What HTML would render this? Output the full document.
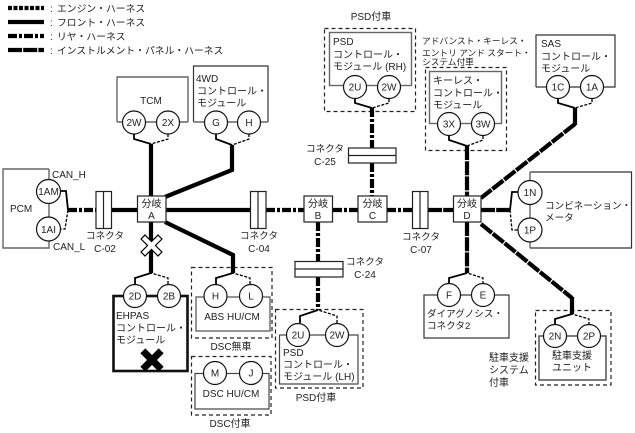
<!DOCTYPE html>
<html><head><meta charset="utf-8"><style>
html,body{margin:0;padding:0;background:#fff}
svg{display:block}
text{font-family:"Liberation Sans","Noto Sans CJK JP",sans-serif;font-size:10px;fill:#222}
.j{font-size:9.6px}
.l{font-size:9.8px}
.a{font-size:8.7px}
.b{fill:#fff;stroke:#333;stroke-width:1.2}
.g{fill:none;stroke:#666;stroke-width:1.4}
.c{fill:#fff;stroke:#111;stroke-width:1.2}
.d{fill:none;stroke:#222;stroke-width:1.2;stroke-dasharray:4 3}
.s{fill:none;stroke:#000;stroke-width:1.8}
.t{fill:none;stroke:#000;stroke-width:1.3;stroke-dasharray:3 1.5}
.w{fill:none;stroke:#000;stroke-width:4.2}
.wr{fill:none;stroke:#000;stroke-width:4.2;stroke-dasharray:9 2 3 2}
.wi{fill:none;stroke:#000;stroke-width:4.2;stroke-dasharray:14 1.2}
.we{fill:none;stroke:#000;stroke-width:4.2;stroke-dasharray:4 1.5}
.m{text-anchor:middle}
</style></head><body>
<svg width="635" height="433" viewBox="0 0 635 433" xmlns="http://www.w3.org/2000/svg">
<!-- legend -->
<path class="we" d="M8 8H44"/><path class="w" d="M8 22H44"/><path class="wr" d="M8 36H44"/><path class="wi" d="M8 50H44"/>
<text x="50" y="12">:</text><text class="l" x="57" y="12">エンジン・ハーネス</text>
<text x="50" y="26">:</text><text class="l" x="57" y="26">フロント・ハーネス</text>
<text x="50" y="40">:</text><text class="l" x="57" y="40">リヤ・ハーネス</text>
<text x="50" y="54">:</text><text class="l" x="57" y="54">インストルメント・パネル・ハーネス</text>

<!-- boxes -->
<path class="g" d="M117 122V77H188V122"/>
<path class="b" d="M193.500 122V66H268V122" fill="none"/>
<path class="g" d="M117 122H188M193.500 122H268"/>
<path class="g" d="M49 169H3V248H49V169"/>
<rect class="d" x="324.500" y="28.500" width="91" height="83"/>
<rect class="g" x="329.500" y="32.500" width="82" height="53"/>
<rect class="d" x="425.500" y="67.500" width="81" height="83"/>
<rect class="g" x="429.500" y="71.500" width="72" height="52"/>
<path class="b" d="M536 87V35H615V87H536"/>
<path class="b" d="M530 172H631.500V248H530"/><path class="g" d="M530 172V248"/>
<rect x="113.500" y="296" width="74" height="75" fill="#fff" stroke="#111" stroke-width="2.6"/>
<rect class="d" x="191.500" y="267.500" width="80.500" height="70.500"/>
<rect x="196" y="297" width="74" height="34" fill="#fff" stroke="#666" stroke-width="1.4"/>
<rect class="d" x="191.500" y="356.500" width="79.500" height="58.500"/>
<rect x="195" y="373.500" width="74" height="35.500" fill="#fff" stroke="#444" stroke-width="1.2"/>
<rect class="d" x="275.500" y="309.500" width="87.500" height="78.500"/>
<rect x="279.500" y="335" width="78.500" height="49" fill="#fff" stroke="#444" stroke-width="1.2"/>
<rect x="424" y="295" width="85" height="43" fill="#fff" stroke="#333" stroke-width="1.2"/>
<rect class="d" x="535.500" y="310.500" width="75.500" height="74.500"/>
<rect x="539" y="336" width="67" height="44" fill="#fff" stroke="#444" stroke-width="1.4"/>

<!-- main wires -->
<path class="wr" d="M68 210H96"/>
<path class="w" d="M111 210H137M166 210H250"/>
<path class="wr" d="M266 210H304M333 210H358M387 210H412"/>
<path class="wi" d="M428 210H453M481 210H510"/>
<path class="w" d="M151 144V196M232 145V170L165 197"/>
<path class="wr" d="M372 108V148M372 163V196M318 222V261M318 277V310"/>
<path class="wi" d="M467 146V196M467 222V273"/>
<path class="w" d="M575 108V125"/>
<path class="wi" d="M575 124L481 198M481 224L572 298"/>
<path class="w" d="M572 297V314M151 222V273M165 222L233 255V273"/>

<!-- stubs -->
<path class="s" d="M134 134V139L151 144M216 134V139L232 145M355 99V103L372 108M449 136V140L467 146M558 99V103L575 108M135 284V278L151 273M216 284V278L233 273M300 323V316L318 310M449 284V278L467 273M555 325V319L572 314M60 191H66L68 210M518 192H512L510 210"/>
<path class="t" d="M168 134V139L151 144M249 134V139L232 145M389 99V103L372 108M483 136V140L467 146M592 99V103L575 108M168 284V278L151 273M250 284V278L233 273M337 323V316L318 310M483 284V278L467 273M589 325V319L572 314M68 210L65 229H60M510 210L512 230H518"/>

<!-- connectors -->
<g fill="#fff" stroke="#222" stroke-width="1.2">
<rect x="96" y="191.500" width="15.500" height="37"/><path d="M103.500 191.500V228.500"/>
<rect x="250.500" y="191.500" width="15.500" height="37"/><path d="M258 191.500V228.500"/>
<rect x="412.500" y="191.500" width="15.500" height="37"/><path d="M420 191.500V228.500"/>
<rect x="348.500" y="148" width="47.500" height="15"/><path d="M348.500 155.500H396"/>
<rect x="295" y="261.500" width="48" height="15.500"/><path d="M295 269H343"/>
</g>

<!-- branches -->
<g fill="#fff" stroke="#222" stroke-width="1.2">
<rect x="137.500" y="196" width="28.500" height="26"/>
<rect x="304" y="196" width="28.500" height="26"/>
<rect x="358" y="196" width="29" height="26"/>
<rect x="453.500" y="196" width="27.500" height="26"/>
</g>
<text class="m" x="151.500" y="207">分岐</text><text class="m" x="151.500" y="219">A</text>
<text class="m" x="318" y="207">分岐</text><text class="m" x="318" y="219">B</text>
<text class="m" x="372.500" y="207">分岐</text><text class="m" x="372.500" y="219">C</text>
<text class="m" x="467" y="207">分岐</text><text class="m" x="467" y="219">D</text>

<!-- circles -->
<g>
<circle class="c" cx="134" cy="122.500" r="11.500"/><circle class="c" cx="168" cy="122.500" r="11.500"/>
<circle class="c" cx="216" cy="122.500" r="11.500"/><circle class="c" cx="249" cy="122.500" r="11.500"/>
<circle class="c" cx="48.500" cy="191.500" r="12"/><circle class="c" cx="48.500" cy="229" r="12"/>
<circle class="c" cx="355" cy="87" r="11.500"/><circle class="c" cx="389" cy="87" r="11.500"/>
<circle class="c" cx="449" cy="124" r="11.500"/><circle class="c" cx="483" cy="124" r="11.500"/>
<circle class="c" cx="558" cy="87" r="11.500"/><circle class="c" cx="592" cy="87" r="11.500"/>
<circle class="c" cx="530" cy="192.500" r="12"/><circle class="c" cx="530" cy="230" r="12"/>
<circle class="c" cx="135" cy="296" r="11.500"/><circle class="c" cx="169" cy="296" r="11.500"/>
<circle class="c" cx="215.500" cy="296" r="11.500"/><circle class="c" cx="251" cy="296" r="11.500"/>
<circle class="c" cx="215" cy="373" r="11.500"/><circle class="c" cx="251" cy="373" r="11.500"/>
<circle class="c" cx="298" cy="335" r="11.500"/><circle class="c" cx="337" cy="335" r="11.500"/>
<circle class="c" cx="449" cy="295" r="11.500"/><circle class="c" cx="483" cy="295" r="11.500"/>
<circle class="c" cx="555" cy="336" r="11.500"/><circle class="c" cx="589" cy="336" r="11.500"/>
</g>
<g>
<text class="m" x="134" y="126">2W</text><text class="m" x="168" y="126">2X</text>
<text class="m" x="216" y="126">G</text><text class="m" x="249" y="126">H</text>
<text class="m" x="48.500" y="195">1AM</text><text class="m" x="48.500" y="233">1AI</text>
<text class="m" x="355" y="90.500">2U</text><text class="m" x="389" y="90.500">2W</text>
<text class="m" x="449" y="127.500">3X</text><text class="m" x="483" y="127.500">3W</text>
<text class="m" x="558" y="90.500">1C</text><text class="m" x="592" y="90.500">1A</text>
<text class="m" x="530" y="196">1N</text><text class="m" x="530" y="233.500">1P</text>
<text class="m" x="135" y="299.500">2D</text><text class="m" x="169" y="299.500">2B</text>
<text class="m" x="215.500" y="299.500">H</text><text class="m" x="251" y="299.500">L</text>
<text class="m" x="215" y="376.500">M</text><text class="m" x="251" y="376.500">J</text>
<text class="m" x="298" y="338.500">2U</text><text class="m" x="337" y="338.500">2W</text>
<text class="m" x="449" y="298.500">F</text><text class="m" x="483" y="298.500">E</text>
<text class="m" x="555" y="339.500">2N</text><text class="m" x="589" y="339.500">2P</text>
</g>

<!-- X markers -->
<g transform="translate(151.500 245.500) rotate(45)"><path d="M-2.800-12H2.800V-2.800H12V2.800H2.800V12H-2.800V2.800H-12V-2.800H-2.800Z" fill="#fff" stroke="#000" stroke-width="1.2"/></g>
<g transform="translate(152 360) rotate(45)"><path d="M-3.500-13H3.500V-3.500H13V3.500H3.500V13H-3.500V3.500H-13V-3.500H-3.500Z" fill="#000"/></g>

<!-- labels -->
<text class="m" x="151" y="104">TCM</text>
<text x="196" y="82">4WD</text><text x="197" y="94.500">コントロール・</text><text x="197" y="106.500">モジュール</text>
<text x="10" y="212">PCM</text>
<text x="52" y="178">CAN_H</text><text x="53" y="250">CAN_L</text>
<text class="m j" x="105" y="239">コネクタ</text><text class="m" x="105" y="252">C-02</text>
<text class="m j" x="259" y="239">コネクタ</text><text class="m" x="259" y="252">C-04</text>
<text class="m j" x="421" y="240">コネクタ</text><text class="m" x="421" y="253">C-07</text>
<text class="m j" x="325" y="152">コネクタ</text><text class="m" x="325" y="165">C-25</text>
<text class="j" x="346" y="265">コネクタ</text><text class="m" x="365" y="278">C-24</text>
<text class="m" x="371" y="20">PSD付車</text>
<text x="333" y="45">PSD</text><text x="333" y="58">コントロール・</text><text x="333" y="70">モジュール (RH)</text>
<text class="a" x="422" y="44">アドバンスト・キーレス・</text><text class="a" x="422" y="56">エントリ アンド スタート・</text><text class="a" x="422" y="65">システム付車</text>
<text x="433" y="84">キーレス・</text><text x="433" y="96.500">コントロール・</text><text x="433" y="108.500">モジュール</text>
<text x="541" y="47">SAS</text><text x="541" y="60">コントロール・</text><text x="541" y="72">モジュール</text>
<text class="j" x="545" y="209">コンビネーション・</text><text class="j" x="545" y="221">メータ</text>
<text x="116" y="319">EHPAS</text><text x="116" y="331.500">コントロール・</text><text x="116" y="343.500">モジュール</text>
<text class="m" x="232" y="320">ABS HU/CM</text>
<text class="m" x="231" y="350">DSC無車</text>
<text class="m" x="231" y="397">DSC HU/CM</text>
<text class="m" x="230" y="427">DSC付車</text>
<text x="283" y="356">PSD</text><text x="283" y="368">コントロール・</text><text x="283" y="380">モジュール (LH)</text>
<text class="m" x="316" y="401">PSD付車</text>
<text class="j" x="427" y="317">ダイアグノシス・</text><text class="j" x="427" y="329">コネクタ2</text>
<text class="m" x="572" y="359">駐車支援</text><text class="m" x="572" y="371">ユニット</text>
<text x="489" y="361">駐車支援</text><text x="489" y="373.500">システム</text><text x="489" y="386">付車</text>
</svg>
</body></html>
